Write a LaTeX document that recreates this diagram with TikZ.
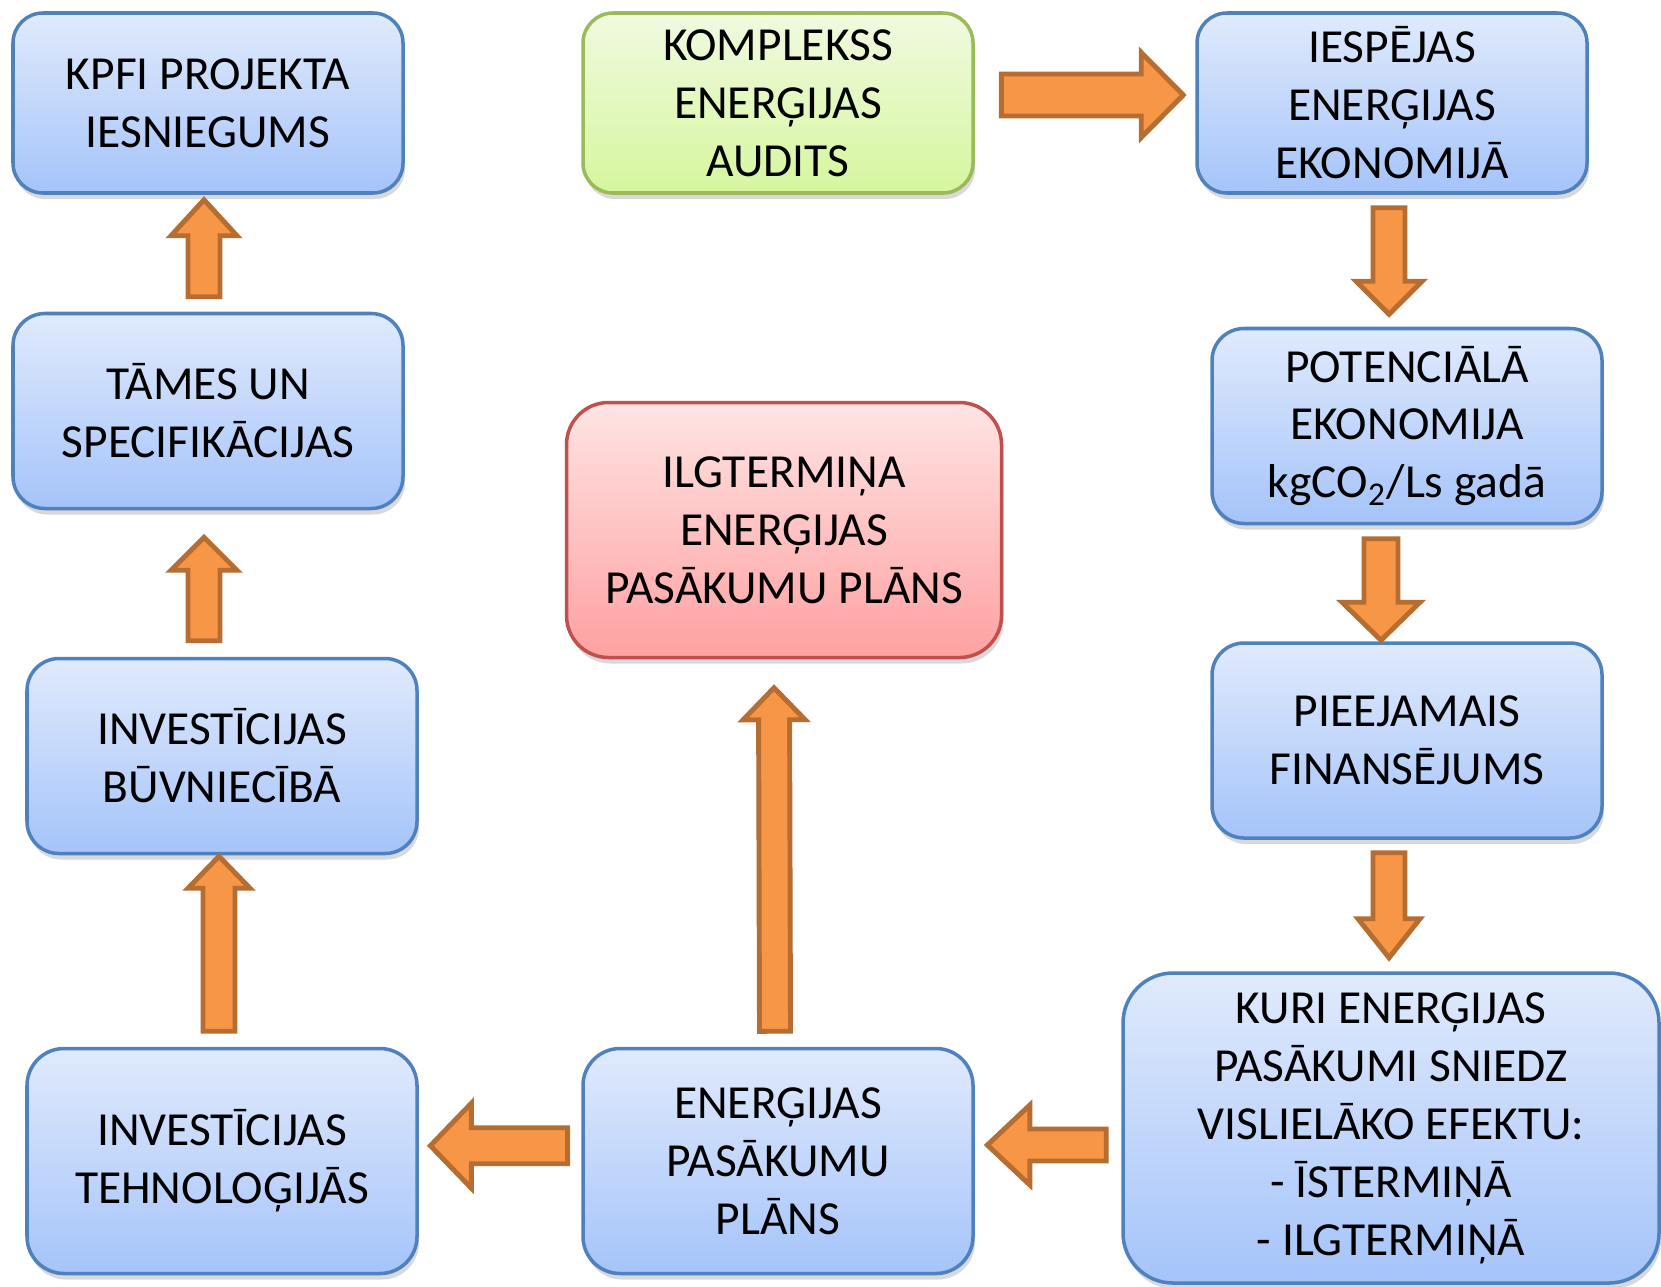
\documentclass[tikz,border=0pt]{standalone}
\usepackage{fontspec}
\setmainfont{Carlito}
\usetikzlibrary{calc,shadows}
\definecolor{boxtop}{RGB}{224,234,252}
\definecolor{boxbottom}{RGB}{165,196,250}
\definecolor{boxedge}{RGB}{79,129,189}
\definecolor{greentop}{RGB}{240,250,224}
\definecolor{greenbottom}{RGB}{214,246,158}
\definecolor{greenedge}{RGB}{155,187,89}
\definecolor{redtop}{RGB}{255,228,228}
\definecolor{redbottom}{RGB}{255,161,161}
\definecolor{rededge}{RGB}{192,80,77}
\definecolor{arrowfill}{RGB}{247,150,70}
\definecolor{arrowedge}{RGB}{182,109,49}
% block arrow from #2 to #3, shaft half width #4, head half width #5, head length #6
\def\fatarrow[#1](#2)(#3)(#4:#5:#6){\draw[#1] ($(#2)!#4!90:(#3)$) -- ($(#3)!#6!(#2)!#4!90:(#3)$) -- ($(#3)!#6!(#2)!#5!90:(#3)$) -- (#3) -- ($(#3)!#6!(#2)!#5!-90:(#3)$) -- ($(#3)!#6!(#2)!#4!-90:(#3)$) -- ($(#2)!#4!-90:(#3)$) -- cycle;}

\begin{document}
\begin{tikzpicture}[
		box/.style={line width=1pt, align=center, inner sep=0pt, minimum width=3.9cm, rounded corners=0.32cm,
			font=\fontsize{13.5}{16.5}\selectfont,
			drop shadow={opacity=0.3, shadow xshift=0.02cm, shadow yshift=-0.06cm}},
		bluebox/.style={box, draw=boxedge, top color=boxtop, bottom color=boxbottom},
		greenbox/.style={box, draw=greenedge, top color=greentop, bottom color=greenbottom},
		redbox/.style={box, draw=rededge, top color=redtop, bottom color=redbottom},
		fat/.style={fill=arrowfill, draw=arrowedge, line width=1.4pt, line join=miter}]
			%%%%% START %%%%%
			
			\useasboundingbox (0, 0) rectangle (16.61, 12.86);
			
			% left column
			\node[bluebox, minimum height=1.8cm, rounded corners=0.3cm] (kpfi) at (2.08, 11.83) {KPFI PROJEKTA\\IESNIEGUMS};
			\node[bluebox, minimum height=1.95cm] (tames) at (2.08, 8.75) {TĀMES UN\\SPECIFIKĀCIJAS};
			\node[bluebox, minimum height=1.95cm] (buvn) at (2.22, 5.30) {INVESTĪCIJAS\\BŪVNIECĪBĀ};
			\node[bluebox, minimum height=2.25cm, rounded corners=0.37cm] (tehn) at (2.22, 1.25) {INVESTĪCIJAS\\TEHNOLOĢIJĀS};
			
			% middle column
			\node[greenbox, minimum height=1.8cm, rounded corners=0.3cm] (audits) at (7.78, 11.83) {KOMPLEKSS\\ENERĢIJAS\\AUDITS};
			\node[redbox, minimum width=4.35cm, minimum height=2.55cm, rounded corners=0.42cm] (ilgt) at (7.84, 7.56) {ILGTERMIŅA\\ENERĢIJAS\\PASĀKUMU PLĀNS};
			\node[bluebox, minimum height=2.25cm, rounded corners=0.37cm] (plans) at (7.78, 1.25) {ENERĢIJAS\\PASĀKUMU\\PLĀNS};
			
			% right column
			\node[bluebox, minimum height=1.8cm, rounded corners=0.3cm] (iesp) at (13.92, 11.83) {IESPĒJAS\\ENERĢIJAS\\EKONOMIJĀ};
			\node[bluebox, minimum height=1.95cm] (pot) at (14.07, 8.60) {POTENCIĀLĀ\\EKONOMIJA\\kgCO\textsubscript{2}/Ls gadā};
			\node[bluebox, minimum height=1.95cm] (pieej) at (14.07, 5.455) {PIEEJAMAIS\\FINANSĒJUMS};
			\node[bluebox, minimum width=5.36cm, minimum height=3.1cm, rounded corners=0.5cm] (kuri) at (13.91, 1.58) {KURI ENERĢIJAS\\PASĀKUMI SNIEDZ\\VISLIELĀKO EFEKTU:\\- ĪSTERMIŅĀ\\- ILGTERMIŅĀ};
			
			% arrow ends
			\coordinate (g1) at ($(audits.east)+(0.266,0.08)$);
			\coordinate (g2) at ($(iesp.west)+(-0.12,0.08)$);
			\coordinate (h1) at ($(iesp.south)+(-0.03,-0.13)$);
			\coordinate (h2) at ($(pot.north)+(-0.18,0.125)$);
			\coordinate (i1) at ($(pot.south)+(-0.26,-0.135)$);
			\coordinate (i2) at ($(pieej.north)+(-0.26,0.01)$);
			\coordinate (j1) at ($(pieej.south)+(-0.18,-0.13)$);
			\coordinate (j2) at ($(kuri.north)+(-0.02,0.135)$);
			\coordinate (f1) at ($(kuri.west)+(-0.15,-0.17)$);
			\coordinate (f2) at ($(plans.east)+(0.126,0.16)$);
			\coordinate (e1) at ($(plans.west)+(-0.136,0.153)$);
			\coordinate (e2) at ($(tehn.east)+(0.116,0.153)$);
			\coordinate (d1) at ($(plans.north)+(-0.03,0.155)$);
			\coordinate (d2) at ($(ilgt.south)+(-0.10,-0.285)$);
			\coordinate (c1) at ($(tehn.north)+(-0.03,0.155)$);
			\coordinate (c2) at ($(buvn.south)+(-0.03,-0.01)$);
			\coordinate (b1) at ($(buvn.north)+(-0.18,0.16)$);
			\coordinate (b2) at ($(tames.south)+(-0.04,-0.27)$);
			\coordinate (a1) at ($(tames.north)+(-0.04,0.15)$);
			\coordinate (a2) at ($(kpfi.south)+(-0.04,-0.05)$);
			
			\fatarrow[fat](g1)(g2)(0.21cm:0.425cm:0.42cm);
			\fatarrow[fat](h1)(h2)(0.16cm:0.33cm:0.33cm);
			\fatarrow[fat](i1)(i2)(0.17cm:0.39cm:0.38cm);
			\fatarrow[fat](j1)(j2)(0.16cm:0.31cm:0.39cm);
			\fatarrow[fat](f1)(f2)(0.16cm:0.40cm:0.425cm);
			\fatarrow[fat](e1)(e2)(0.18cm:0.425cm:0.41cm);
			\fatarrow[fat](d1)(d2)(0.155cm:0.31cm:0.32cm);
			\fatarrow[fat](c1)(c2)(0.16cm:0.31cm:0.32cm);
			\fatarrow[fat](b1)(b2)(0.16cm:0.33cm:0.33cm);
			\fatarrow[fat](a1)(a2)(0.16cm:0.33cm:0.36cm);
			
			%%%%% END %%%%%
		\end{tikzpicture}
\end{document}
